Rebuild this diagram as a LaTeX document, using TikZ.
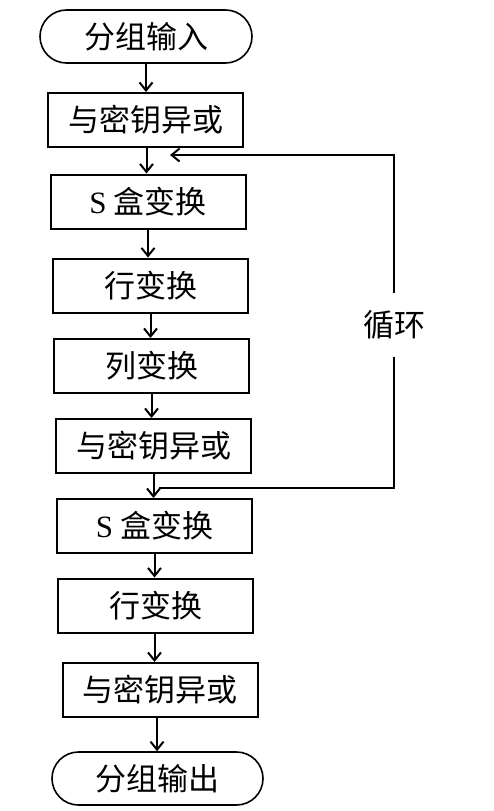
\documentclass[tikz,border=0pt]{standalone}
\usepackage{fontspec}
\setmainfont{Liberation Serif}
\newfontfamily\cjk{Noto Sans CJK SC}
\usetikzlibrary{arrows.meta,shapes.misc}
\begin{document}
\begin{tikzpicture}[x=1pt,y=-1pt,
  every node/.style={font=\fontsize{31}{36}\selectfont\cjk, inner sep=0pt},
  stepbox/.style={draw, line width=2pt, minimum width=195pt, minimum height=54pt},
  termbox/.style={draw, line width=1.6pt, rounded rectangle, minimum width=212pt, minimum height=53pt},
  flow/.style={line width=2pt, -{Straight Barb[length=8pt,width=13pt,line width=2pt]}},
  plain/.style={line width=2pt}]
\useasboundingbox (0,0) rectangle (494,811);
\node[termbox] (t1) at (146,36.5) {分组输入};
\node[stepbox] (b1) at (145.5,120) {与密钥异或};
\node[stepbox] (b2) at (148,201.5) {{\fontspec{Liberation Serif}S} 盒变换};
\node[stepbox] (b3) at (150.5,285.5) {行变换};
\node[stepbox] (b4) at (151.5,366) {列变换};
\node[stepbox] (b5) at (153.5,446) {与密钥异或};
\node[stepbox] (b6) at (154.5,526) {{\fontspec{Liberation Serif}S} 盒变换};
\node[stepbox] (b7) at (155.5,605.5) {行变换};
\node[stepbox] (b8) at (160,690) {与密钥异或};
\node[termbox, minimum width=211pt] (t2) at (157.5,778.5) {分组输出};
\node[minimum height=64pt] (lbl) at (394,325) {循环};
\coordinate (lstart) at (159,488);
\coordinate (lend) at (170,155);
\draw[flow] (t1.south) -- (t1.south |- b1.north);
\draw[flow] ([xshift=1pt]b1.south) -- ([xshift=1pt]b1.south |- b2.north);
\draw[flow] (b2.south) -- (b2.south |- b3.north);
\draw[flow] (b3.south) -- (b3.south |- b4.north);
\draw[flow] (b4.south) -- (b4.south |- b5.north);
\draw[flow] (b5.south) -- (b5.south |- b6.north);
\draw[flow] (b6.south) -- (b6.south |- b7.north);
\draw[flow] ([xshift=-1pt]b7.south) -- ([xshift=-1pt]b7.south |- b8.north);
\draw[flow] ([xshift=-3pt]b8.south) -- ([xshift=-3pt]b8.south |- t2.north);
\draw[plain] (lstart) -| (lbl.south);
\draw[flow] (lbl.north) |- (lend);
\end{tikzpicture}
\end{document}
